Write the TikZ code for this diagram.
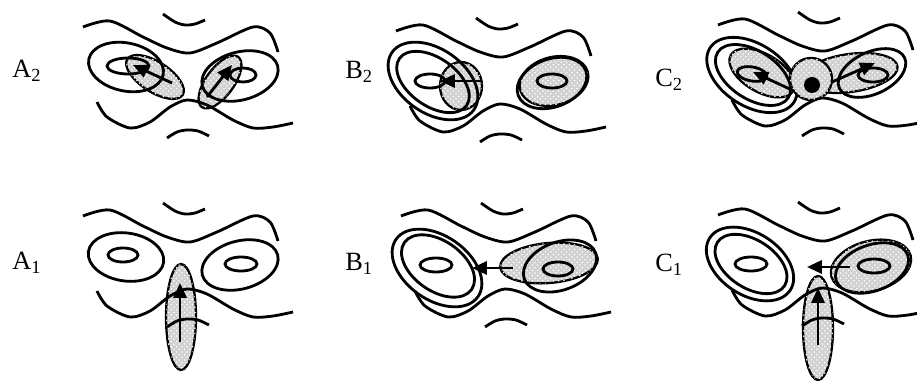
\documentclass[tikz,border=0pt]{standalone}
\usepackage{fontspec}
\setmainfont{Liberation Serif}
\usetikzlibrary{arrows.meta, patterns}
\tikzset{
  isoline/.style={draw=black, line width=1.6pt},
  basin/.style={
    draw=black, line width=1.3pt,
    fill=black!18,
    postaction={pattern=crosshatch dots, pattern color=white}
  },
  hop/.style={
    -{Triangle[length=8.5pt,width=7.5pt]},
    line width=1.6pt
  },
  panel/.style={font=\fontsize{15}{17}\selectfont, anchor=west, inner sep=0pt},
  terrain/.pic={
    \draw[isoline] plot[smooth] coordinates {(-104,-49) (-77,-55) (-44,-39) (-20,-28) (3,-23) (30,-33) (66,-49) (83,-43) (91,-24)};
    \draw[isoline] plot[smooth] coordinates {(-90,26) (-80,41) (-57,52) (-37,46) (-17,31) (0,24) (20,29) (46,44) (66,52) (86,51) (106,47)};
    \draw[isoline] plot[smooth] coordinates {(-24,-62) (-12,-54) (-2,-51) (8,-52) (18,-56)};
    \draw[isoline] plot[smooth] coordinates {(-20,62) (-10,56) (0,54) (11,55) (22,60)};
  }
}

\begin{document}
\begin{tikzpicture}[x=0.02cm, y=-0.02cm]
  \useasboundingbox (0,0) rectangle (917,381);

  % A2
  \node[panel] (labA2) at (12,71) {A\textsubscript{2}};
  \fill[basin] (155,77) ellipse [x radius=33, y radius=15, rotate=-33];
  \fill[basin] (220,82) ellipse [x radius=31, y radius=14, rotate=54];
  \pic at (187,76) {terrain};
  \draw[isoline] (126,67) ellipse [x radius=38, y radius=24, rotate=-12];
  \draw[isoline] (128,66) ellipse [x radius=21, y radius=8];
  \draw[isoline] (240,76) ellipse [x radius=39, y radius=24, rotate=15];
  \draw[isoline] (243,75) ellipse [x radius=13, y radius=7];
  \coordinate (a2l) at (172,83);
  \coordinate (a2lt) at (133,65);
  \coordinate (a2r) at (207,97);
  \coordinate (a2rt) at (232,65);
  \draw[hop] (a2l) -- (a2lt);
  \draw[hop] (a2r) -- (a2rt);

  % A1
  \node[panel] (labA1) at (12,263) {A\textsubscript{1}};
  \fill[basin] (181,317) ellipse [x radius=15, y radius=53];
  \pic at (187,265) {terrain};
  \draw[isoline] (126,257) ellipse [x radius=38, y radius=24, rotate=-8];
  \draw[isoline] (123,255) ellipse [x radius=15, y radius=7];
  \draw[isoline] (240,265) ellipse [x radius=39, y radius=24, rotate=15];
  \draw[isoline] (241,264) ellipse [x radius=16, y radius=7];
  \coordinate (a1b) at (180,342);
  \coordinate (a1t) at (180,283);
  \draw[hop] (a1b) -- (a1t);

  % B2
  \node[panel] (labB2) at (345,72) {B\textsubscript{2}};
  \fill[basin] (461,86) ellipse [x radius=21, y radius=24];
  \fill[basin] (554,81) ellipse [x radius=35, y radius=24, rotate=15];
  \pic at (500,80) {terrain};
  \draw[isoline] (433,81) ellipse [x radius=50, y radius=32, rotate=-35];
  \draw[isoline] (433,82) ellipse [x radius=41, y radius=24, rotate=-35];
  \draw[isoline] (430,81) ellipse [x radius=15, y radius=7];
  \draw[isoline] (552,83) ellipse [x radius=36, y radius=24, rotate=20];
  \draw[isoline] (552,81) ellipse [x radius=15, y radius=7];
  \coordinate (b2s) at (482,81);
  \coordinate (b2e) at (440,81);
  \draw[hop] (b2s) -- (b2e);

  % B1
  \node[panel] (labB1) at (345,264) {B\textsubscript{1}};
  \fill[basin] (549,263) ellipse [x radius=49, y radius=20, rotate=5];
  \pic at (505,265) {terrain};
  \draw[isoline] (437,268) ellipse [x radius=50, y radius=32, rotate=-35];
  \draw[isoline] (438,266) ellipse [x radius=41, y radius=25, rotate=-35];
  \draw[isoline] (436,265) ellipse [x radius=16, y radius=7];
  \draw[isoline] (560,266) ellipse [x radius=38, y radius=24, rotate=20];
  \draw[isoline] (558,269) ellipse [x radius=15, y radius=7];
  \coordinate (b1s) at (513,268);
  \coordinate (b1e) at (472,268);
  \draw[hop] (b1s) -- (b1e);

  % C2
  \node[panel] (labC2) at (655,80) {C\textsubscript{2}};
  \fill[basin] (762,73) ellipse [x radius=36, y radius=19, rotate=-30];
  \fill[basin] (850,73) ellipse [x radius=48, y radius=19, rotate=8];
  \pic at (822,74) {terrain};
  \draw[isoline] (752,75) ellipse [x radius=50, y radius=31, rotate=-33];
  \draw[isoline] (753,75) ellipse [x radius=42, y radius=24, rotate=-33];
  \draw[isoline] (752,74) ellipse [x radius=15, y radius=7, rotate=-10];
  \draw[isoline] (872,73) ellipse [x radius=36, y radius=21, rotate=25];
  \draw[isoline] (873,75) ellipse [x radius=15, y radius=7];
  \fill[basin] (811,79) circle [radius=21];
  \fill (812,85) circle [radius=8];
  \coordinate (c2m) at (792,90);
  \coordinate (c2l) at (753,72);
  \coordinate (c2n) at (832,82);
  \coordinate (c2r) at (875,63);
  \draw[hop] (c2m) -- (c2l);
  \draw[hop] (c2n) -- (c2r);

  % C1
  \node[panel] (labC1) at (655,265) {C\textsubscript{1}};
  \fill[basin] (871,266) ellipse [x radius=41, y radius=25, rotate=15];
  \fill[basin] (818,328) ellipse [x radius=15, y radius=52];
  \pic at (822,264) {terrain};
  \draw[isoline] (750,264) ellipse [x radius=48, y radius=31, rotate=-33];
  \draw[isoline] (751,264) ellipse [x radius=40, y radius=24, rotate=-33];
  \draw[isoline] (751,264) ellipse [x radius=16, y radius=7];
  \draw[isoline] (872,268) ellipse [x radius=38, y radius=23, rotate=20];
  \draw[isoline] (874,266) ellipse [x radius=16, y radius=7];
  \coordinate (c1s) at (850,267);
  \coordinate (c1e) at (807,267);
  \coordinate (c1b) at (818,345);
  \coordinate (c1t) at (818,288);
  \draw[hop] (c1s) -- (c1e);
  \draw[hop] (c1b) -- (c1t);
\end{tikzpicture}
\end{document}
